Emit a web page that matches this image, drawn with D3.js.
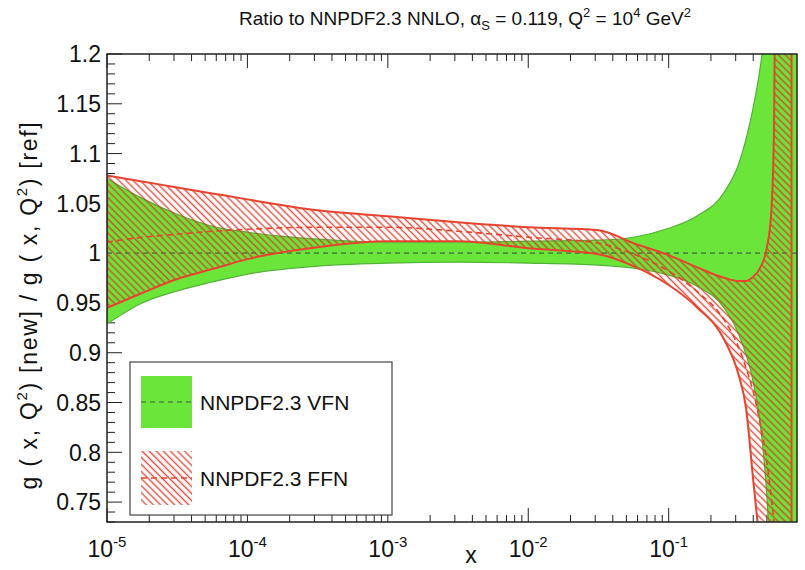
<!DOCTYPE html>
<html>
<head>
<meta charset="utf-8">
<script src="https://cdn.jsdelivr.net/npm/d3@7"></script>
<style>
  html, body { margin: 0; padding: 0; background: #fff; }
  svg { display: block; font-family: "Liberation Sans", Arial, Helvetica, sans-serif; }
</style>
</head>
<body>
<svg id="chart" width="805" height="570"></svg>
<script>
// ---------------- DATA ----------------
const titleText = "Ratio to NNPDF2.3 NNLO";
const yTicksMajor = [0.75, 0.8, 0.85, 0.9, 0.95, 1, 1.05, 1.1, 1.15, 1.2];
const yTickLabels = ["0.75", "0.8", "0.85", "0.9", "0.95", "1", "1.05", "1.1", "1.15", "1.2"];
const xTicksMajor = [1e-5, 1e-4, 1e-3, 1e-2, 1e-1];
const xTickExponents = ["-5", "-4", "-3", "-2", "-1"];

// VFN (green band)
const vfnX = [1e-5, 1.78e-5, 3.16e-5, 5.62e-5, 1e-4, 3.16e-4, 1e-3, 3.16e-3, 1e-2, 3.16e-2, 0.0562, 0.1, 0.158, 0.251, 0.316, 0.398, 0.447, 0.501, 0.562, 0.631, 0.75, 0.891];
const vfnUpper = [1.075, 1.055, 1.039, 1.027, 1.021, 1.014, 1.011, 1.011, 1.012, 1.013, 1.016, 1.025, 1.037, 1.062, 1.09, 1.145, 1.185, 1.245, 1.36, 1.5, 1.8, 2.2];
const vfnLower = [0.929, 0.950, 0.962, 0.971, 0.979, 0.987, 0.990, 0.991, 0.990, 0.988, 0.985, 0.978, 0.967, 0.944, 0.918, 0.872, 0.83, 0.755, 0.6, 0.4, 0.1, -0.2];
const vfnCentral = [1, 1, 1, 1, 1, 1, 1, 1, 1, 1, 1, 1, 1, 1, 1, 1, 1, 1, 1, 1, 1, 1];

// FFN (red hatched band)
const ffnX = [1e-5, 1.78e-5, 3.16e-5, 5.62e-5, 1e-4, 3.16e-4, 1e-3, 3.16e-3, 1e-2, 3.16e-2, 0.0562, 0.1, 0.158, 0.251, 0.316, 0.355, 0.398, 0.447, 0.501, 0.537, 0.562, 0.569, 0.75];
const ffnUpper = [1.078, 1.072, 1.066, 1.060, 1.054, 1.043, 1.037, 1.031, 1.026, 1.023, 1.010, 0.998, 0.986, 0.975, 0.972, 0.972, 0.976, 0.985, 1.006, 1.04, 1.12, 1.21, 2.5];
const ffnLower = [0.945, 0.960, 0.974, 0.984, 0.994, 1.006, 1.012, 1.012, 1.005, 0.999, 0.987, 0.968, 0.946, 0.912, 0.877, 0.845, 0.775, 0.70, 0.58, 0.47, 0.42, 0.40, -0.5];
const ffnCentral = [1.011, 1.016, 1.019, 1.022, 1.024, 1.026, 1.026, 1.022, 1.016, 1.010, 0.999, 0.982, 0.962, 0.932, 0.905, 0.885, 0.862, 0.83, 0.79, 0.755, 0.73, 0.72, 0.3];

const legendLabels = ["NNPDF2.3 VFN", "NNPDF2.3 FFN"];

// ---------------- STYLE ----------------
const GREEN = "#6ce53b", GREEN_EDGE = "#4fb334", GREEN_DASH = "#4a8c3c";
const RED = "#e8432f", HATCH = "#d63a28";

const W = 805, H = 570;
const m = { left: 107, right: 8, top: 54, bottom: 48 };
const x0 = m.left, x1 = W - m.right, y0 = m.top, y1 = H - m.bottom;

const svg = d3.select("#chart");
const x = d3.scaleLog().domain([1e-5, 0.82]).range([x0, x1]);
const y = d3.scaleLinear().domain([0.73, 1.2]).range([y1, y0]);

const defs = svg.append("defs");
defs.append("clipPath").attr("id", "plotclip")
  .append("rect").attr("x", x0).attr("y", y0).attr("width", x1 - x0).attr("height", y1 - y0);
const pat = defs.append("pattern").attr("id", "hatch")
  .attr("patternUnits", "userSpaceOnUse").attr("width", 5).attr("height", 5)
  .attr("patternTransform", "rotate(-45)");
pat.append("line").attr("x1", 1.5).attr("y1", 0).attr("x2", 1.5).attr("y2", 5)
  .attr("stroke", HATCH).attr("stroke-width", 1.5).attr("stroke-opacity", 0.85);

// ---------------- TICKS (drawn under bands) ----------------
const tickG = svg.append("g").attr("stroke", "#222").attr("stroke-width", 1);
const yMinor = d3.range(73, 121).map(v => v / 100);
yMinor.forEach(v => {
  const isMajor = Math.abs(v * 20 - Math.round(v * 20)) < 1e-6;
  tickG.append("line").attr("x1", x0).attr("x2", x0 + (isMajor ? 15 : 8))
    .attr("y1", y(v)).attr("y2", y(v));
});
const xAll = [];
for (let e = -5; e <= -1; e++) for (let k = 1; k <= 9; k++) {
  const v = k * Math.pow(10, e);
  if (v <= 0.82) xAll.push({ v, major: k === 1 });
}
xAll.forEach(t => {
  const len = t.major ? 14 : 7;
  tickG.append("line").attr("x1", x(t.v)).attr("x2", x(t.v)).attr("y1", y1).attr("y2", y1 - len);
  tickG.append("line").attr("x1", x(t.v)).attr("x2", x(t.v)).attr("y1", y0).attr("y2", y0 + len);
});

// ---------------- BANDS ----------------
const plot = svg.append("g").attr("clip-path", "url(#plotclip)");
const vfn = vfnX.map((v, i) => ({ x: v, lo: vfnLower[i], hi: vfnUpper[i], c: vfnCentral[i] }));
const ffn = ffnX.map((v, i) => ({ x: v, lo: ffnLower[i], hi: ffnUpper[i], c: ffnCentral[i] }));

const area = d3.area().curve(d3.curveMonotoneX)
  .x(d => x(d.x)).y0(d => y(d.lo)).y1(d => y(d.hi));
const centralLine = d3.line().curve(d3.curveMonotoneX).x(d => x(d.x)).y(d => y(d.c));

plot.append("path").datum(vfn).attr("d", area)
  .attr("fill", GREEN).attr("stroke", GREEN_EDGE).attr("stroke-width", 1.2);
plot.append("path").datum(vfn).attr("d", centralLine)
  .attr("fill", "none").attr("stroke", GREEN_DASH).attr("stroke-width", 1.6).attr("stroke-dasharray", "5,4");

plot.append("path").datum(ffn).attr("d", area)
  .attr("fill", "url(#hatch)").attr("stroke", RED).attr("stroke-width", 2);
plot.append("path").datum(ffn).attr("d", centralLine)
  .attr("fill", "none").attr("stroke", RED).attr("stroke-width", 1.6).attr("stroke-dasharray", "6,4");

// ---------------- FRAME ----------------
svg.append("rect").attr("x", x0).attr("y", y0).attr("width", x1 - x0).attr("height", y1 - y0)
  .attr("fill", "none").attr("stroke", "#222").attr("stroke-width", 1.5);

// ---------------- LABELS ----------------
const fs = 23;
yTicksMajor.forEach((v, i) => {
  svg.append("text").attr("x", x0 - 6).attr("y", y(v)).attr("dy", "0.36em")
    .attr("text-anchor", "end").attr("font-size", fs).attr("fill", "#111").text(yTickLabels[i]);
});
xTicksMajor.forEach((v, i) => {
  const t = svg.append("text").attr("x", x(v)).attr("y", 557)
    .attr("text-anchor", "middle").attr("font-size", fs).attr("fill", "#111");
  t.append("tspan").text("10");
  t.append("tspan").attr("font-size", 15).attr("dy", -10).text(xTickExponents[i]);
});
svg.append("text").attr("x", 471).attr("y", 563).attr("text-anchor", "middle")
  .attr("font-size", fs).attr("fill", "#111").text("x");

// title
const tt = svg.append("text").attr("x", 465).attr("y", 25).attr("text-anchor", "middle")
  .attr("font-size", 19).attr("fill", "#111");
tt.append("tspan").text(titleText + ", \u03b1");
tt.append("tspan").attr("font-size", 13).attr("dy", 5).text("S");
tt.append("tspan").attr("dy", -5).text(" = 0.119, Q");
tt.append("tspan").attr("font-size", 13).attr("dy", -8).text("2");
tt.append("tspan").attr("dy", 8).text(" = 10");
tt.append("tspan").attr("font-size", 13).attr("dy", -8).text("4");
tt.append("tspan").attr("dy", 8).text(" GeV");
tt.append("tspan").attr("font-size", 13).attr("dy", -8).text("2");

// y axis title
const yt = svg.append("text").attr("transform", "translate(37,305) rotate(-90)")
  .attr("text-anchor", "middle").attr("font-size", fs).attr("fill", "#111")
  .attr("letter-spacing", "1.7px");
yt.append("tspan").text("g ( x, Q");
yt.append("tspan").attr("font-size", 15).attr("dy", -10).text("2");
yt.append("tspan").attr("dy", 10).text(") [new] / g ( x, Q");
yt.append("tspan").attr("font-size", 15).attr("dy", -10).text("2");
yt.append("tspan").attr("dy", 10).text(") [ref]");

// ---------------- LEGEND ----------------
const lg = svg.append("g");
lg.append("rect").attr("x", 130).attr("y", 362).attr("width", 262).attr("height", 153)
  .attr("fill", "#fff").attr("stroke", "#444").attr("stroke-width", 1.2);
lg.append("rect").attr("x", 141).attr("y", 376).attr("width", 51).attr("height", 52).attr("fill", GREEN);
lg.append("line").attr("x1", 141).attr("x2", 192).attr("y1", 402).attr("y2", 402)
  .attr("stroke", GREEN_DASH).attr("stroke-width", 1.6).attr("stroke-dasharray", "5,4");
lg.append("text").attr("x", 200).attr("y", 402).attr("dy", "0.36em").attr("font-size", 21).attr("fill", "#111").text(legendLabels[0]);
lg.append("rect").attr("x", 141).attr("y", 451).attr("width", 51).attr("height", 54).attr("fill", "url(#hatch)");
lg.append("line").attr("x1", 141).attr("x2", 192).attr("y1", 478).attr("y2", 478)
  .attr("stroke", RED).attr("stroke-width", 1.6).attr("stroke-dasharray", "6,4");
lg.append("text").attr("x", 200).attr("y", 478).attr("dy", "0.36em").attr("font-size", 21).attr("fill", "#111").text(legendLabels[1]);
</script>
</body>
</html>
